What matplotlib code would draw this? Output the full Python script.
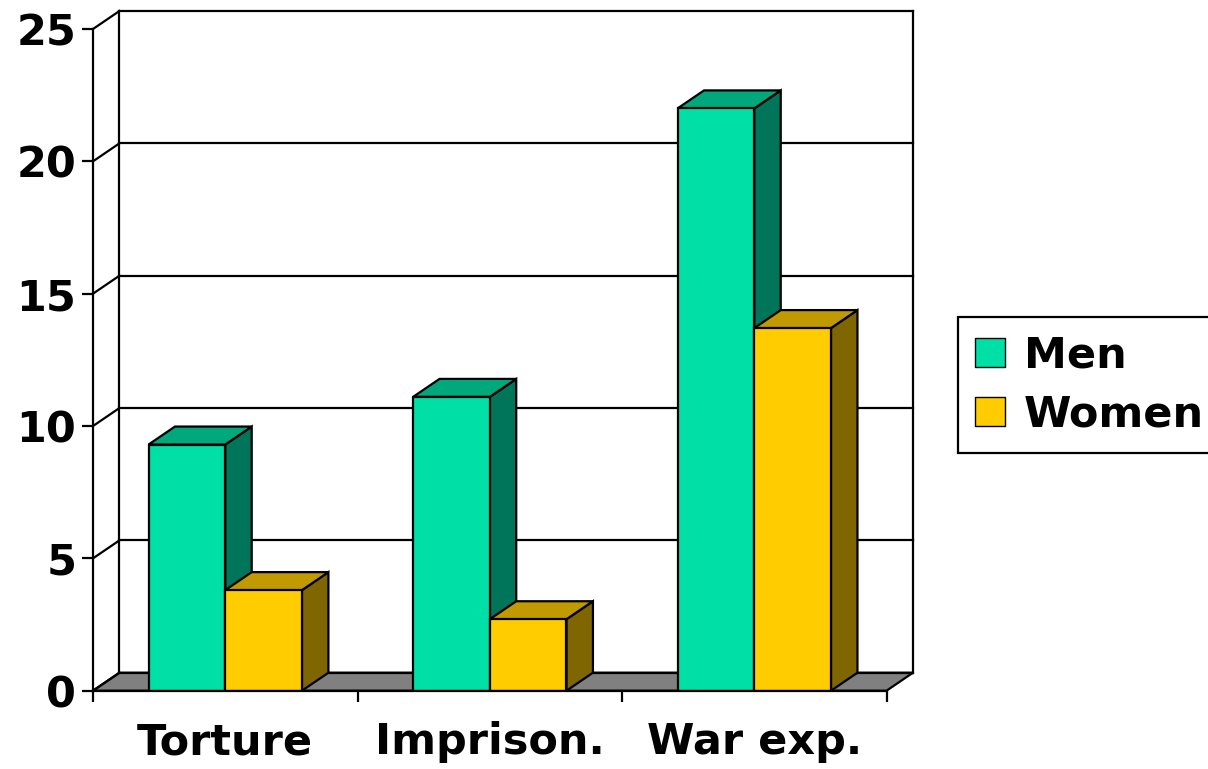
import numpy as np
import matplotlib
matplotlib.use('Agg')
import matplotlib.pyplot as plt
from matplotlib.patches import Polygon, Patch

categories = ['Torture', 'Imprison.', 'War exp.']
men = [9.3, 11.1, 22.0]
women = [3.8, 2.7, 13.7]
yticks = [0, 5, 10, 15, 20, 25]

# colours: front, top, side
men_col = ['#00E0A6', '#00A87C', '#007559']
women_col = ['#FFCC00', '#C09A00', '#806600']

dx, dy = 0.1, 0.68      # depth offset of the back wall (data units)
w = 0.29                # width of one bar
ymax = 25

plt.rcParams['font.family'] = 'DejaVu Sans'
plt.rcParams['font.weight'] = 'bold'

fig = plt.figure(figsize=(12.08, 7.69), dpi=100)
ax = fig.add_axes([93/1208, (769-690.7)/769, (913-93)/1208, (690.7-11)/769])
ax.set_xlim(-0.5, len(categories) - 0.5 + dx)
ax.set_ylim(0, ymax + dy)

lw = 1.6
x0, x1 = -0.5, len(categories) - 0.5

# floor
ax.add_patch(Polygon([(x0, 0), (x1, 0), (x1 + dx, dy), (x0 + dx, dy)],
                     closed=True, facecolor='#808080', edgecolor='black', lw=lw, zorder=1))
# back wall gridlines and side-wall diagonals
for t in yticks:
    ax.plot([x0 + dx, x1 + dx], [t + dy, t + dy], color='black', lw=lw, zorder=1, clip_on=False)
    ax.plot([x0, x0 + dx], [t, t + dy], color='black', lw=lw, zorder=1, clip_on=False)
ax.plot([x0 + dx, x0 + dx], [dy, ymax + dy], color='black', lw=lw, zorder=1, clip_on=False)
ax.plot([x1 + dx, x1 + dx], [dy, ymax + dy], color='black', lw=lw, zorder=1, clip_on=False)


def bar3d(xl, v, cols, z):
    ax.add_patch(Polygon([(xl + w, 0), (xl + w + dx, dy), (xl + w + dx, v + dy), (xl + w, v)],
                         closed=True, facecolor=cols[2], edgecolor='black', lw=lw, zorder=z))
    ax.add_patch(Polygon([(xl, v), (xl + w, v), (xl + w + dx, v + dy), (xl + dx, v + dy)],
                         closed=True, facecolor=cols[1], edgecolor='black', lw=lw, zorder=z))
    ax.add_patch(Polygon([(xl, 0), (xl + w, 0), (xl + w, v), (xl, v)],
                         closed=True, facecolor=cols[0], edgecolor='black', lw=lw, zorder=z))


for i in range(len(categories)):
    bar3d(i - w, men[i], men_col, 3)
    bar3d(i, women[i], women_col, 4)

for s in ['top', 'right']:
    ax.spines[s].set_visible(False)
ax.spines['left'].set_bounds(0, ymax)
ax.spines['bottom'].set_bounds(x0, x1)
ax.spines['left'].set_linewidth(lw)
ax.spines['bottom'].set_linewidth(lw)
ax.spines['left'].set_zorder(5)
ax.spines['bottom'].set_zorder(5)

ax.set_yticks(yticks)
ax.set_yticklabels([str(t) for t in yticks], fontsize=31, fontweight='bold')
ax.tick_params(axis='y', direction='out', length=8, width=lw, pad=4)

ax.set_xticks(np.arange(x0, x1 + 0.01, 1.0))
ax.set_xticklabels([])
ax.set_xticks(range(len(categories)), minor=True)
ax.set_xticklabels(categories, minor=True, fontsize=31, fontweight='bold')
ax.tick_params(axis='x', which='major', direction='out', length=8, width=lw)
ax.tick_params(axis='x', which='minor', length=0, pad=22)

handles = [Patch(facecolor=men_col[0], edgecolor='black', label='Men'),
           Patch(facecolor=women_col[0], edgecolor='black', label='Women')]
leg = fig.legend(handles=handles, loc='center left', bbox_to_anchor=(958/1208, (769-385)/769),
                 prop={'weight': 'bold', 'size': 31}, frameon=True, fancybox=False,
                 framealpha=1, edgecolor='black', handlelength=0.68, handleheight=0.68,
                 handletextpad=0.45, borderpad=0.4, labelspacing=0.4, borderaxespad=0)
leg.get_frame().set_linewidth(1.6)

fig.savefig('out.png', dpi=100)
